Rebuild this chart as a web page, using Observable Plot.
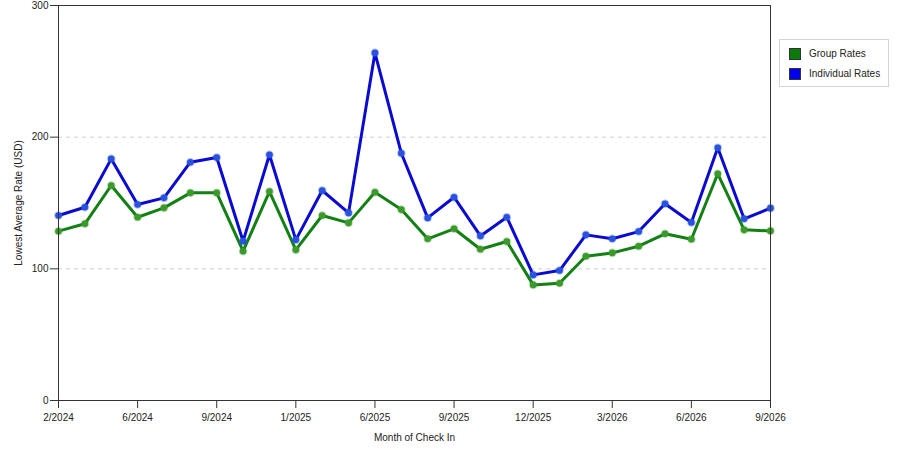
<!DOCTYPE html>
<html>
<head>
<meta charset="utf-8">
<script src="https://cdn.jsdelivr.net/npm/d3@7"></script>
<script src="https://cdn.jsdelivr.net/npm/@observablehq/plot@0.6"></script>
<style>
  html, body { margin: 0; padding: 0; background: #fff; }
  #wrap { position: relative; width: 900px; height: 450px; font-family: "Liberation Sans", Arial, sans-serif; }
  #legend { position: absolute; left: 779px; top: 39px; width: 110px; height: 48px; border: 1px solid #d4d4d4; background: #fff; box-sizing: border-box; }
  .item { position: absolute; left: 9px; font-size: 10px; color: #222; line-height: 12px; }
  .sw { display: inline-block; width: 12px; height: 12px; vertical-align: middle; margin-right: 8px; box-sizing: border-box; border: 1px solid #333; }
</style>
</head>
<body>
<div id="wrap"></div>
<script>
const months = ["2/2024","3/2024","4/2024","6/2024","7/2024","8/2024","9/2024","10/2024","11/2024",
  "1/2025","2/2025","4/2025","6/2025","7/2025","8/2025","9/2025","10/2025","11/2025","12/2025",
  "1/2026","2/2026","3/2026","4/2026","5/2026","6/2026","7/2026","8/2026","9/2026"];
const individualRates = [140.5,146.8,183.5,148.9,153.9,181,184.6,121,186.6,122,159.5,142.5,264,187.8,138.7,154.4,125,139.2,95.4,98.7,125.8,122.8,128.3,149.4,135.2,191.9,138,146.1];
const groupRates = [128.6,134.2,163.3,139.2,146.3,157.7,157.7,113.4,158.7,114.4,140.5,134.9,158.2,145,122.8,130.4,114.9,120.8,87.8,89.1,109.6,112.1,117.2,126.6,122.5,172.2,129.6,128.8];
const tickLabels = ["2/2024","6/2024","9/2024","1/2025","6/2025","9/2025","12/2025","3/2026","6/2026","9/2026"];
const seriesNames = ["Group Rates","Individual Rates"];
const seriesColors = ["#138013","#0a0ad0"];
const markerColors = ["#3c9a2c","#2a52e0"];

const rows = [];
months.forEach((m, i) => {
  rows.push({month: m, rate: groupRates[i], series: seriesNames[0]});
  rows.push({month: m, rate: individualRates[i], series: seriesNames[1]});
});

const chart = Plot.plot({
  width: 900,
  height: 450,
  marginLeft: 58,
  marginRight: 130,
  marginTop: 5,
  marginBottom: 50,
  style: {fontFamily: "Liberation Sans, Arial, sans-serif", fontSize: "10px", color: "#222", background: "#fff"},
  x: {type: "point", domain: months, padding: 0, round: false, label: null},
  y: {domain: [0, 300], label: null},
  color: {domain: seriesNames, range: seriesColors},
  marks: [
    Plot.gridY([100, 200], {stroke: "#cfcfcf", strokeOpacity: 1, strokeDasharray: "4,4"}),
    Plot.axisX({ticks: tickLabels, tickSize: 8, tickPadding: 5, label: "Month of Check In", labelAnchor: "center", labelOffset: 40, labelArrow: "none", stroke: "#333"}),
    Plot.axisY({ticks: [0, 100, 200, 300], tickSize: 8, tickPadding: 2, label: "Lowest Average Rate (USD)", labelAnchor: "center", labelOffset: 44, labelArrow: "none", stroke: "#333"}),
    Plot.line(rows, {x: "month", y: "rate", z: "series", stroke: "series", strokeWidth: 3}),
    Plot.dot(rows, {x: "month", y: "rate", r: 3.3, fill: d => markerColors[seriesNames.indexOf(d.series)], stroke: d => markerColors[seriesNames.indexOf(d.series)], strokeOpacity: 0.35, strokeWidth: 2}),
    Plot.frame({stroke: "#333", strokeWidth: 1})
  ]
});
const wrap = document.getElementById("wrap");
wrap.appendChild(chart);

const legend = document.createElement("div");
legend.id = "legend";
seriesNames.forEach((name, i) => {
  const it = document.createElement("div");
  it.className = "item";
  it.style.top = (8 + i * 20) + "px";
  const sw = document.createElement("span");
  sw.className = "sw";
  sw.style.background = i === 0 ? "#0a7a0a" : "#0000ee";
  it.appendChild(sw);
  it.appendChild(document.createTextNode(name));
  legend.appendChild(it);
});
wrap.appendChild(legend);
</script>
</body>
</html>
